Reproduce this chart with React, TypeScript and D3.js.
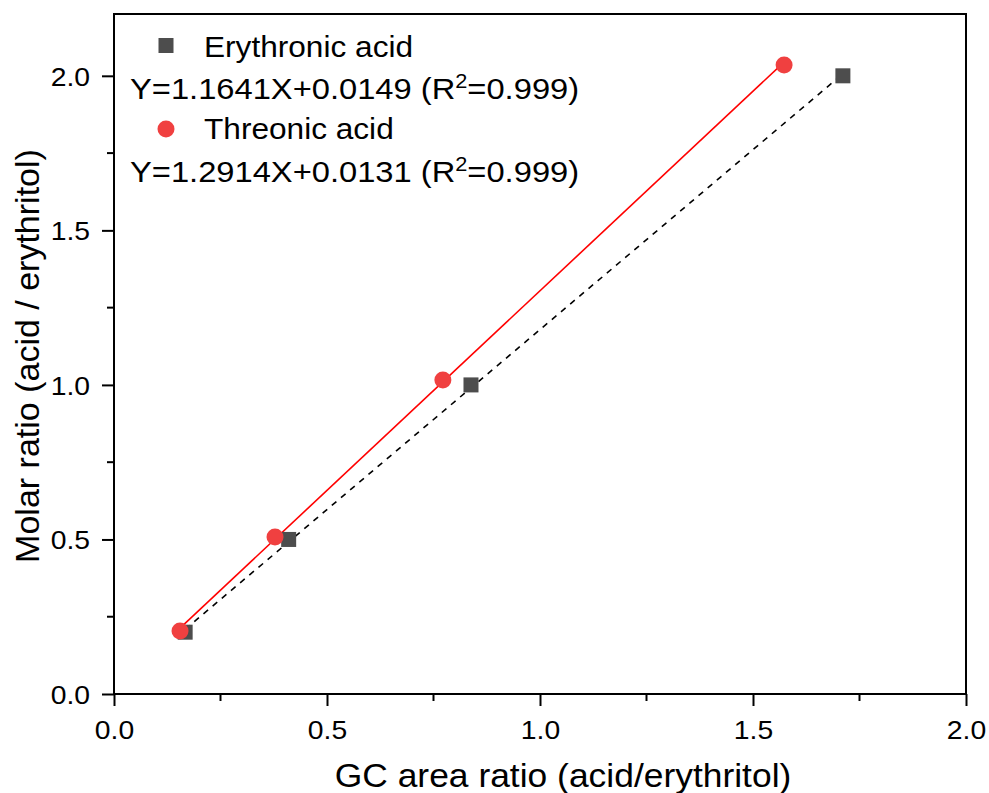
import React, { useEffect, useRef } from "react";
import * as d3 from "d3";

// data
const erythronicX = [0.167, 0.41, 0.838, 1.711];
const erythronicY = [0.2, 0.5, 1.0, 2.0];
const threonicX = [0.155, 0.378, 0.772, 1.573];
const threonicY = [0.204, 0.508, 1.016, 2.035];
const fits = [
  { name: "Erythronic acid", slope: 1.1641, intercept: 0.0149, r2: "0.999" },
  { name: "Threonic acid", slope: 1.2914, intercept: 0.0131, r2: "0.999" },
];
const xTicks = [0, 0.5, 1.0, 1.5, 2.0];
const yTicks = [0, 0.5, 1.0, 1.5, 2.0];

const SX = 1.09; // text in the picture is a little wider than Arial

const App = () => {
  const ref = useRef<SVGSVGElement>(null);

  useEffect(() => {
    const width = 989;
    const height = 793;
    const margin = { top: 14, right: 23, bottom: 99, left: 114 };
    const innerW = width - margin.left - margin.right;
    const innerH = height - margin.top - margin.bottom;
    const font = "'Liberation Sans', Arial, sans-serif";

    const svg = d3.select(ref.current);
    svg.selectAll("*").remove();
    svg.attr("width", width).attr("height", height);

    const g = svg.append("g").attr("transform", `translate(${margin.left},${margin.top})`);

    const x = d3.scaleLinear().domain([0, 2]).range([0, innerW]);
    const y = d3.scaleLinear().domain([0, 2.2]).range([innerH, 0]);

    // minor ticks
    const xMinor = d3.range(0.25, 2, 0.5);
    const yMinor = d3.range(0.25, 2.2, 0.5);
    g.selectAll(".xminor").data(xMinor).join("line")
      .attr("x1", d => x(d)).attr("x2", d => x(d))
      .attr("y1", innerH).attr("y2", innerH + 7)
      .attr("stroke", "#000").attr("stroke-width", 2);
    g.selectAll(".yminor").data(yMinor).join("line")
      .attr("x1", 0).attr("x2", -7)
      .attr("y1", d => y(d)).attr("y2", d => y(d))
      .attr("stroke", "#000").attr("stroke-width", 2);

    // x axis
    const xAxis = g.append("g").attr("transform", `translate(0,${innerH})`)
      .call(d3.axisBottom(x).tickValues(xTicks).tickFormat(d3.format(".1f")).tickSize(12).tickSizeOuter(0));
    xAxis.select(".domain").remove();
    xAxis.selectAll("line").attr("stroke-width", 2);
    xAxis.selectAll("text").attr("font-family", font).attr("font-size", 26).attr("fill", "#000")
      .attr("y", 45).attr("dy", 0).attr("transform", `scale(${SX},1)`);

    // y axis
    const yAxis = g.append("g")
      .call(d3.axisLeft(y).tickValues(yTicks).tickFormat(d3.format(".1f")).tickSize(12).tickSizeOuter(0));
    yAxis.select(".domain").remove();
    yAxis.selectAll("line").attr("stroke-width", 2);
    yAxis.selectAll("text").attr("font-family", font).attr("font-size", 26).attr("fill", "#000")
      .attr("x", -24 / SX).attr("dy", "0.36em").attr("transform", `scale(${SX},1)`);

    // frame
    g.append("rect").attr("x", 0).attr("y", 0).attr("width", innerW).attr("height", innerH)
      .attr("fill", "none").attr("stroke", "#000").attr("stroke-width", 2);

    // fit lines
    const fitLine = (xs: number[], f: typeof fits[0]) => {
      const ext = d3.extent(xs) as [number, number];
      return d3.line<number>().x(d => x(d)).y(d => y(f.slope * d + f.intercept))(ext);
    };
    g.append("path").attr("d", fitLine(erythronicX, fits[0]))
      .attr("fill", "none").attr("stroke", "#000").attr("stroke-width", 1.6).attr("stroke-dasharray", "6,6");
    g.append("path").attr("d", fitLine(threonicX, fits[1]))
      .attr("fill", "none").attr("stroke", "#ff0000").attr("stroke-width", 1.6);

    // points
    const sq = 15;
    g.selectAll(".sq").data(erythronicX).join("rect")
      .attr("x", d => x(d) - sq / 2).attr("y", (d, i) => y(erythronicY[i]) - sq / 2)
      .attr("width", sq).attr("height", sq).attr("fill", "#4d4d4d");
    g.selectAll(".ci").data(threonicX).join("circle")
      .attr("cx", d => x(d)).attr("cy", (d, i) => y(threonicY[i]))
      .attr("r", 8.5).attr("fill", "#f04040");

    // legend
    const lg = svg.append("g").attr("font-family", font).attr("fill", "#000");
    const label = (tx: number, ty: number, size: number) =>
      lg.append("g").attr("transform", `translate(${tx},${ty}) scale(${SX},1)`)
        .append("text").attr("font-size", size);
    lg.append("rect").attr("x", 166 - sq / 2).attr("y", 45.5 - sq / 2).attr("width", sq).attr("height", sq).attr("fill", "#4d4d4d");
    label(204, 57, 29).text(fits[0].name);
    const eq = (f: typeof fits[0], yy: number) => {
      const t = label(130, yy, 30);
      t.append("tspan").text(`Y=${f.slope.toFixed(4)}X+${f.intercept.toFixed(4)} (R`);
      t.append("tspan").attr("font-size", 20).attr("dy", -11).text("2");
      t.append("tspan").attr("dy", 11).text(`=${f.r2})`);
    };
    eq(fits[0], 99);
    lg.append("circle").attr("cx", 166).attr("cy", 129).attr("r", 8.5).attr("fill", "#f04040");
    label(204, 139, 29).text(fits[1].name);
    eq(fits[1], 182);

    // axis titles
    svg.append("g").attr("transform", `translate(563,787) scale(${SX},1)`)
      .append("text").attr("text-anchor", "middle").attr("font-family", font).attr("font-size", 32.5)
      .text("GC area ratio (acid/erythritol)");
    svg.append("text").attr("transform", `translate(39,356) rotate(-90)`)
      .attr("text-anchor", "middle").attr("font-family", font).attr("font-size", 34)
      .text("Molar ratio (acid / erythritol)");
  }, []);

  return <svg ref={ref} style={{ position: "absolute", left: 0, top: 0, background: "#fff" }} />;
};

export default App;
